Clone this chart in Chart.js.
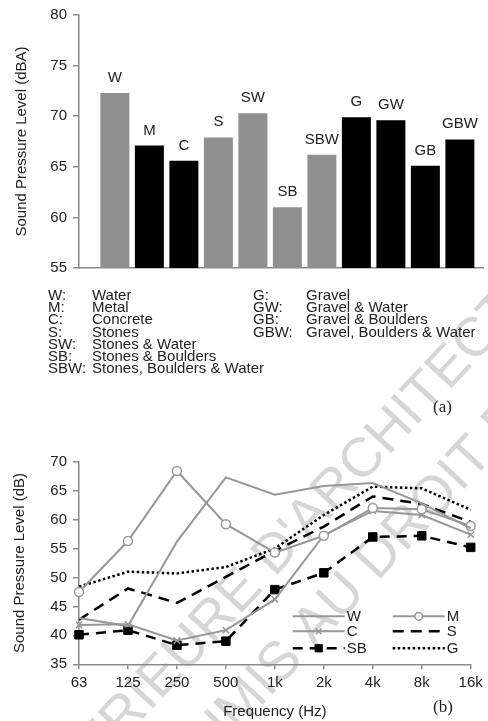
<!DOCTYPE html>
<html>
<head>
<meta charset="utf-8">
<script src="https://cdn.jsdelivr.net/npm/chart.js@4.4.0/dist/chart.umd.min.js"></script>
<style>
html, body { margin: 0; padding: 0; background: #fff; }
body { width: 488px; height: 721px; position: relative; overflow: hidden; font-family: "Liberation Sans", Arial, sans-serif; color: #222; }
#mark { position: absolute; left: 0; top: 0; width: 488px; height: 721px; z-index: 0; }
.box { position: absolute; left: 0; width: 488px; z-index: 1; }
#barBox { top: 0; height: 283px; }
#lineBox { top: 420px; height: 301px; }
#keys { position: absolute; left: 0; top: 0; z-index: 2; }
.key { position: absolute; font-size: 15px; line-height: 15px; white-space: nowrap; }
.tag { position: absolute; z-index: 2; font-family: "Liberation Serif", "Times New Roman", serif; font-size: 17px; line-height: 17px; }
</style>
</head>
<body>
<canvas id="mark" width="488" height="721"></canvas>
<div class="box" id="barBox"><canvas id="barChart"></canvas></div>
<div id="keys"></div>
<div class="box" id="lineBox"><canvas id="lineChart"></canvas></div>
<div class="tag" style="left:433px;top:398px">(a)</div>
<div class="tag" style="left:433px;top:698px">(b)</div>
<script>
// (a) overall level per surface
const surfaces = ['W', 'M', 'C', 'S', 'SW', 'SB', 'SBW', 'G', 'GW', 'GB', 'GBW'];
const surfaceNames = ['Water', 'Metal', 'Concrete', 'Stones', 'Stones & Water', 'Stones & Boulders',
  'Stones, Boulders & Water', 'Gravel', 'Gravel & Water', 'Gravel & Boulders', 'Gravel, Boulders & Water'];
const levels = [72.3, 67.1, 65.6, 67.9, 70.3, 61.0, 66.2, 69.9, 69.6, 65.1, 67.7];
const levelTicks = [55, 60, 65, 70, 75, 80];

// (b) spectra
const freqs = ['63', '125', '250', '500', '1k', '2k', '4k', '8k', '16k'];
const splW = [43.0, 41.6, 56.2, 67.3, 64.3, 65.8, 66.3, 62.8, 58.5];
const splM = [47.5, 56.3, 68.4, 59.2, 54.3, 57.2, 62.0, 61.8, 58.9];
const splC = [41.8, 41.9, 39.1, 40.9, 46.2, 57.3, 61.5, 60.8, 57.4];
const splS = [42.7, 48.1, 45.6, 50.1, 54.6, 58.8, 64.0, 62.7, 59.6];
const splSB = [40.1, 40.9, 38.3, 39.0, 47.9, 50.8, 57.0, 57.2, 55.2];
const splG = [48.4, 51.0, 50.7, 51.8, 55.0, 60.8, 65.7, 65.4, 61.7];
const splTicks = [35, 40, 45, 50, 55, 60, 65, 70];

const greySurfaces = ['W', 'S', 'SW', 'SB', 'SBW'];
const GREY = '#8f8f8f';
const LINE_GREY = '#979797';
const AXIS = '#8a8a8a';
const INK = '#222';
const FONT = '"Liberation Sans", Arial, sans-serif';

Chart.defaults.font.family = FONT;
Chart.defaults.font.size = 15;
Chart.defaults.color = INK;

// faint diagonal watermark behind everything
(function () {
  const ctx = document.getElementById('mark').getContext('2d');
  ctx.font = '55px ' + FONT;
  ctx.fillStyle = '#d6d6d6';
  ctx.textBaseline = 'middle';
  function line(text, anchor, cx, cy) {
    const pre = text.slice(0, text.indexOf(anchor));
    const off = ctx.measureText(pre).width + ctx.measureText(anchor[0]).width / 2;
    ctx.save();
    ctx.translate(cx, cy);
    ctx.rotate(-0.82);
    ctx.fillText(text, -off, 0);
    ctx.restore();
  }
  line("ECOLE NATIONALE SUPERIEURE D'ARCHITECTURE", "D'ARCH", 277, 553);
  line("DOCUMENT SOUMIS AU DROIT D'AUTEUR", "DROIT", 380, 557);
})();

// key list under chart (a)
const keys = document.getElementById('keys');
const rowY = [294.3, 306.5, 318.8, 331, 343.2, 355.4, 367.7];
surfaces.forEach((s, i) => {
  const left = i < 7;
  const y = left ? rowY[i] : rowY[i - 7];
  const a = document.createElement('div');
  a.className = 'key';
  a.style.left = (left ? 48 : 253) + 'px';
  a.style.top = (y - 7.5) + 'px';
  a.textContent = s + ':';
  keys.appendChild(a);
  const b = document.createElement('div');
  b.className = 'key';
  b.style.left = (left ? 92 : 306) + 'px';
  b.style.top = (y - 7.5) + 'px';
  b.textContent = surfaceNames[i];
  keys.appendChild(b);
});

const barLabels = {
  id: 'barLabels',
  afterDatasetsDraw(chart) {
    const ctx = chart.ctx;
    ctx.save();
    ctx.font = '15px ' + FONT;
    ctx.fillStyle = INK;
    ctx.textAlign = 'center';
    ctx.textBaseline = 'alphabetic';
    chart.getDatasetMeta(0).data.forEach((bar, i) => {
      ctx.fillText(surfaces[i], bar.x, bar.y - 11);
    });
    ctx.restore();
  }
};

new Chart(document.getElementById('barChart'), {
  type: 'bar',
  data: {
    datasets: [{
      data: surfaces.map((s, i) => ({ x: i, y: levels[i] })),
      backgroundColor: surfaces.map(s => greySurfaces.includes(s) ? GREY : '#000'),
      borderWidth: 0,
      barPercentage: 0.84,
      categoryPercentage: 1
    }]
  },
  options: {
    responsive: true,
    maintainAspectRatio: false,
    animation: false,
    layout: { padding: { top: 10, right: 5, left: 0, bottom: 0 } },
    plugins: { legend: { display: false }, tooltip: { enabled: false } },
    scales: {
      x: {
        type: 'linear',
        offset: false,
        min: -1.04,
        max: 10.67,
        ticks: { display: false },
        grid: { display: false, offset: false },
        border: { color: AXIS, width: 1.5 },
        afterFit: s => { s.height = 10; }
      },
      y: {
        min: levelTicks[0],
        max: levelTicks[levelTicks.length - 1],
        ticks: { stepSize: levelTicks[1] - levelTicks[0], padding: 6 },
        grid: { drawOnChartArea: false, tickLength: 6, color: AXIS, lineWidth: 1.5 },
        border: { color: AXIS, width: 1.5 },
        title: { display: true, text: 'Sound Pressure Level (dBA)', padding: { top: 13, bottom: 0 } },
        afterFit: s => { s.width = 79; }
      }
    }
  },
  plugins: [barLabels]
});

// legend drawn inside the plot, two columns
const lineLegend = {
  id: 'lineLegend',
  afterDraw(chart) {
    const ctx = chart.ctx;
    const area = chart.chartArea;
    const rows = [-48, -33, -16];
    ctx.save();
    ctx.font = '15px ' + FONT;
    ctx.textBaseline = 'middle';
    ctx.textAlign = 'left';
    chart.data.datasets.forEach((ds, i) => {
      const x0 = area.right + (i % 2 === 0 ? -178 : -78);
      const y = area.bottom + rows[Math.floor(i / 2)];
      ctx.strokeStyle = ds.borderColor;
      ctx.lineWidth = ds.borderWidth;
      ctx.setLineDash(ds.borderDash || []);
      ctx.beginPath();
      ctx.moveTo(x0, y);
      ctx.lineTo(x0 + 52, y);
      ctx.stroke();
      ctx.setLineDash([]);
      if (ds.pointRadius > 0) {
        ctx.fillStyle = ds.pointBackgroundColor;
        ctx.strokeStyle = ds.pointBorderColor;
        ctx.lineWidth = ds.pointBorderWidth;
        Chart.helpers.drawPoint(ctx, {
          pointStyle: ds.pointStyle, rotation: 0,
          radius: ds.pointRadius * 0.85, borderWidth: ds.pointBorderWidth
        }, x0 + 26, y);
      }
      ctx.fillStyle = INK;
      ctx.fillText(ds.label, x0 + 54, y + 1);
    });
    ctx.restore();
  }
};

new Chart(document.getElementById('lineChart'), {
  type: 'line',
  data: {
    labels: freqs,
    datasets: [
      { label: 'W', data: splW, borderColor: LINE_GREY, borderWidth: 2, pointRadius: 0 },
      { label: 'M', data: splM, borderColor: LINE_GREY, borderWidth: 2, pointStyle: 'circle', pointRadius: 4.5,
        pointBackgroundColor: '#fff', pointBorderColor: LINE_GREY, pointBorderWidth: 1.5 },
      { label: 'C', data: splC, borderColor: LINE_GREY, borderWidth: 2, pointStyle: 'crossRot', pointRadius: 4.5,
        pointBackgroundColor: LINE_GREY, pointBorderColor: LINE_GREY, pointBorderWidth: 1.5 },
      { label: 'S', data: splS, borderColor: '#000', borderWidth: 2.5, borderDash: [11, 7], pointRadius: 0 },
      { label: 'SB', data: splSB, borderColor: '#000', borderWidth: 2.5, borderDash: [10, 7], pointStyle: 'rect',
        pointRadius: 6, pointBackgroundColor: '#000', pointBorderColor: '#000', pointBorderWidth: 1 },
      { label: 'G', data: splG, borderColor: '#000', borderWidth: 2.5, borderDash: [2.5, 2.5], pointRadius: 0 }
    ]
  },
  options: {
    responsive: true,
    maintainAspectRatio: false,
    animation: false,
    layout: { padding: { top: 41.7, right: 17.3, left: 0, bottom: 0 } },
    plugins: { legend: { display: false }, tooltip: { enabled: false } },
    scales: {
      x: {
        offset: false,
        ticks: { padding: 5, maxRotation: 0 },
        grid: { drawOnChartArea: false, tickLength: 5, color: AXIS, lineWidth: 1.5 },
        border: { color: AXIS, width: 1.5 },
        title: { display: true, text: 'Frequency (Hz)', padding: { top: 5, bottom: 0 } },
        afterFit: s => { s.height = 56.7; }
      },
      y: {
        min: splTicks[0],
        max: splTicks[splTicks.length - 1],
        ticks: { stepSize: splTicks[1] - splTicks[0], padding: 6 },
        grid: { drawOnChartArea: false, tickLength: 6, color: AXIS, lineWidth: 1.5 },
        border: { color: AXIS, width: 1.5 },
        title: { display: true, text: 'Sound Pressure Level (dB)', padding: { top: 11, bottom: 0 } },
        afterFit: s => { s.width = 79; }
      }
    }
  },
  plugins: [lineLegend]
});
</script>
</body>
</html>
